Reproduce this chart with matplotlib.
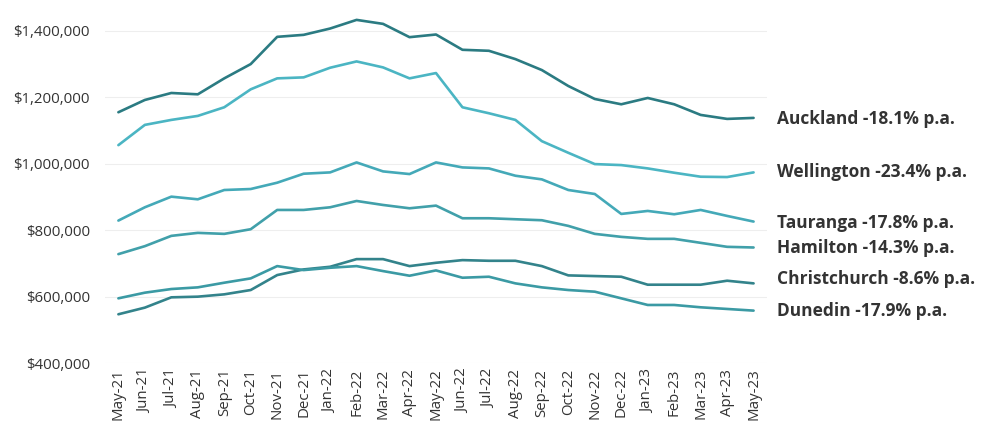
import matplotlib
matplotlib.use("Agg")
import matplotlib.pyplot as plt
from matplotlib.ticker import FuncFormatter

months = ["May-21", "Jun-21", "Jul-21", "Aug-21", "Sep-21", "Oct-21", "Nov-21", "Dec-21",
          "Jan-22", "Feb-22", "Mar-22", "Apr-22", "May-22", "Jun-22", "Jul-22", "Aug-22",
          "Sep-22", "Oct-22", "Nov-22", "Dec-22", "Jan-23", "Feb-23", "Mar-23", "Apr-23", "May-23"]

auckland = [1155000, 1192000, 1213000, 1209000, 1257000, 1300000, 1382000, 1388000, 1407000,
            1433000, 1421000, 1381000, 1389000, 1343000, 1340000, 1315000, 1282000, 1234000,
            1195000, 1179000, 1198000, 1179000, 1147000, 1135000, 1138000]
wellington = [1056000, 1117000, 1132000, 1144000, 1170000, 1224000, 1257000, 1260000, 1289000,
              1308000, 1290000, 1257000, 1273000, 1170000, 1152000, 1132000, 1068000, 1033000,
              999000, 996000, 986000, 973000, 961000, 960000, 974000]
tauranga = [829000, 869000, 901000, 893000, 921000, 924000, 943000, 970000, 974000,
            1004000, 977000, 969000, 1004000, 989000, 986000, 964000, 953000, 921000,
            909000, 849000, 858000, 848000, 861000, 843000, 826000]
hamilton = [728000, 752000, 783000, 792000, 789000, 803000, 861000, 861000, 869000,
            888000, 876000, 866000, 874000, 836000, 836000, 833000, 830000, 813000,
            789000, 780000, 774000, 774000, 762000, 750000, 748000]
christchurch = [547000, 567000, 598000, 600000, 607000, 620000, 665000, 682000, 690000,
                713000, 713000, 692000, 702000, 710000, 708000, 708000, 692000, 664000,
                662000, 660000, 636000, 636000, 636000, 648000, 640000]
dunedin = [595000, 612000, 623000, 628000, 642000, 655000, 692000, 680000, 687000,
           692000, 677000, 663000, 679000, 657000, 660000, 640000, 628000, 620000,
           615000, 595000, 575000, 575000, 568000, 563000, 558000]

cities = ["Auckland", "Wellington", "Tauranga", "Hamilton", "Christchurch", "Dunedin"]
changes = ["-18.1%", "-23.4%", "-17.8%", "-14.3%", "-8.6%", "-17.9%"]
series = [auckland, wellington, tauranga, hamilton, christchurch, dunedin]
colors = ["#2b7b82", "#4bb5c3", "#44a9b8", "#41a0aa", "#33838b", "#3b9aa4"]
label_y = [1135000, 975000, 822000, 746000, 653000, 557000]

yticks = [400000, 600000, 800000, 1000000, 1200000, 1400000]

plt.rcParams['font.family'] = ['Open Sans', 'DejaVu Sans']

fig = plt.figure(figsize=(9.92, 4.45), dpi=100)
ax = fig.add_axes([0.106, 0.184, 0.667, 0.784])

x = list(range(len(months)))
for s, c in zip(series, colors):
    ax.plot(x, s, color=c, linewidth=1.9, solid_capstyle='round', solid_joinstyle='round', zorder=3)

for city, ch, yv in zip(cities, changes, label_y):
    ax.annotate(f"{city} {ch} p.a.", xy=(1.0, yv), xycoords=('axes fraction', 'data'),
                xytext=(7, 0), textcoords='offset points', ha='left', va='center',
                fontsize=12.5, fontweight='bold', color='#333333', annotation_clip=False)

ax.set_xlim(-0.5, len(months) - 0.5)
ax.set_ylim(400000, 1450000)
ax.set_yticks(yticks)
ax.yaxis.set_major_formatter(FuncFormatter(lambda v, p: f"${v:,.0f}"))
ax.set_xticks(x)
ax.set_xticklabels(months, rotation=90)
ax.tick_params(axis='both', length=0, labelsize=10.8, labelcolor='#333333')
ax.tick_params(axis='y', pad=11)
ax.tick_params(axis='x', pad=4)
ax.grid(axis='y', color='#eeeeee', linewidth=0.8, zorder=0)
for sp in ax.spines.values():
    sp.set_visible(False)

fig.savefig("out.png", dpi=100)
